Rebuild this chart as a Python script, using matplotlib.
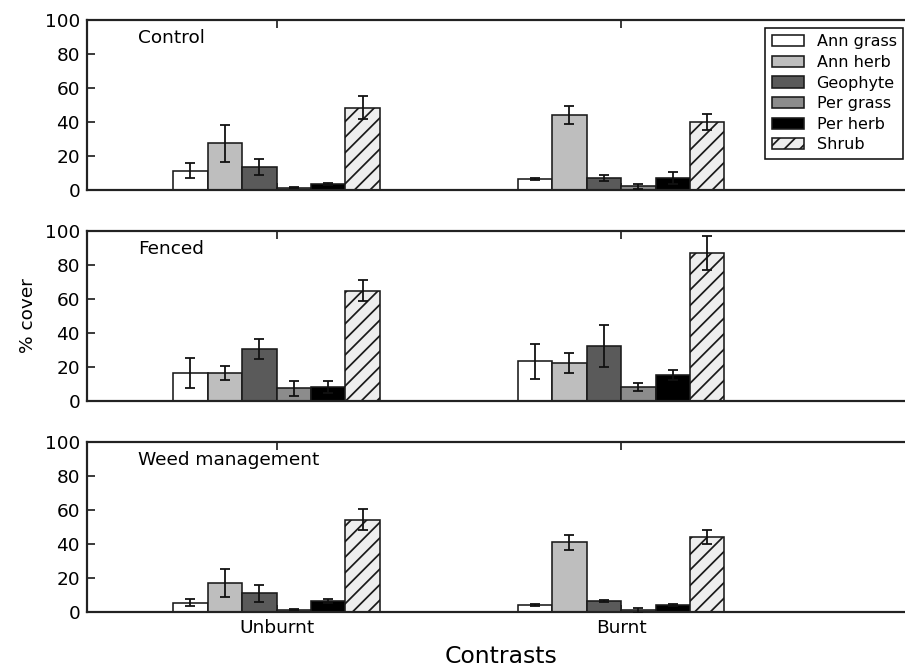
import matplotlib
matplotlib.use('Agg')
import matplotlib.pyplot as plt
import numpy as np

# groups on the x axis and the plant types
groups = ['Unburnt', 'Burnt']
types = ['Ann grass', 'Ann herb', 'Geophyte', 'Per grass', 'Per herb', 'Shrub']
panels = ['Control', 'Fenced', 'Weed management']

# mean % cover, one row per plant type: [Unburnt, Burnt]
control_mean = [[11.4, 6.3], [27.5, 44.1], [13.3, 7.1], [1.4, 2.2], [3.7, 6.9], [48.4, 40.0]]
control_err = [[4.4, 0.5], [11.0, 5.5], [4.7, 1.7], [0.5, 1.5], [0.5, 3.5], [6.8, 4.7]]

fenced_mean = [[16.5, 23.3], [16.5, 22.2], [30.6, 32.5], [7.5, 8.2], [8.2, 15.3], [64.9, 87.0]]
fenced_err = [[8.8, 10.2], [4.2, 6.0], [6.0, 12.5], [4.5, 2.4], [3.6, 3.1], [6.1, 10.0]]

weed_mean = [[5.5, 4.3], [17.2, 41.0], [11.1, 6.8], [1.4, 1.2], [6.8, 4.3], [54.3, 43.9]]
weed_err = [[2.1, 0.7], [8.3, 4.4], [4.8, 0.6], [0.3, 1.5], [1.2, 0.5], [6.0, 4.1]]

means = [control_mean, fenced_mean, weed_mean]
errs = [control_err, fenced_err, weed_err]

# bar styles
faces = ['white', '#bebebe', '#5a5a5a', '#8c8c8c', 'black', '#eeeeee']
hatches = [None, None, None, None, None, '///']

DPI = 140
def pt(px):
    return px * 72.0 / DPI

plt.rcParams['font.family'] = 'DejaVu Sans'
plt.rcParams['hatch.linewidth'] = 0.9
plt.rcParams['xtick.direction'] = 'in'
plt.rcParams['ytick.direction'] = 'in'

fig = plt.figure(figsize=(905.0 / DPI, 670.0 / DPI), dpi=DPI)

# axes boxes in pixels: (top, bottom)
boxes = [(20, 190), (231, 401), (441.7, 612.3)]
left = 87.0 / 905
width = 827.0 / 905

ind = np.arange(len(groups))
w = 0.1

for p in range(3):
    top, bot = boxes[p]
    ax = fig.add_axes([left, (670 - bot) / 670.0, width, (bot - top) / 670.0])
    for k in range(len(types)):
        ax.bar(ind + k * w, means[p][k], w, align='edge', color=faces[k],
               edgecolor='#1a1a1a', linewidth=pt(1.6), hatch=hatches[k],
               label=types[k], zorder=2)
        ax.errorbar(ind + k * w + w / 2, means[p][k], yerr=errs[p][k], fmt='none',
                    ecolor='#111111', elinewidth=pt(1.8), capsize=pt(4.5),
                    capthick=pt(1.8), zorder=3)

    ax.set_xlim(-0.25, 2.15)
    ax.set_ylim(0, 100)
    ax.set_yticks(np.arange(0, 101, 20))
    ax.set_xticks(ind + 3 * w)
    ax.tick_params(top=True, right=True, length=pt(7.5), width=pt(1.5),
                   labelsize=pt(18.5), pad=pt(7))
    for s in ax.spines.values():
        s.set_linewidth(pt(2.2))
        s.set_color('#222222')
    ax.text(0.062, 0.893, panels[p], transform=ax.transAxes, ha='left',
            va='center', fontsize=pt(18.5))

    if p == 2:
        ax.set_xticklabels(groups)
        ax.set_xlabel('Contrasts', fontsize=pt(23.5), labelpad=pt(8))
    else:
        ax.set_xticklabels([])
    if p == 1:
        ax.set_ylabel('% cover', fontsize=pt(18.5), labelpad=pt(8))
    if p == 0:
        leg = ax.legend(loc='upper right', bbox_to_anchor=(0.9867, 0.953),
                        borderaxespad=0, fontsize=pt(16), labelspacing=0.35,
                        handlelength=2.0, handletextpad=0.8, fancybox=False,
                        framealpha=1)
        leg.get_frame().set_edgecolor('#111111')
        leg.get_frame().set_linewidth(pt(1.6))

fig.savefig('out.png', dpi=DPI)
